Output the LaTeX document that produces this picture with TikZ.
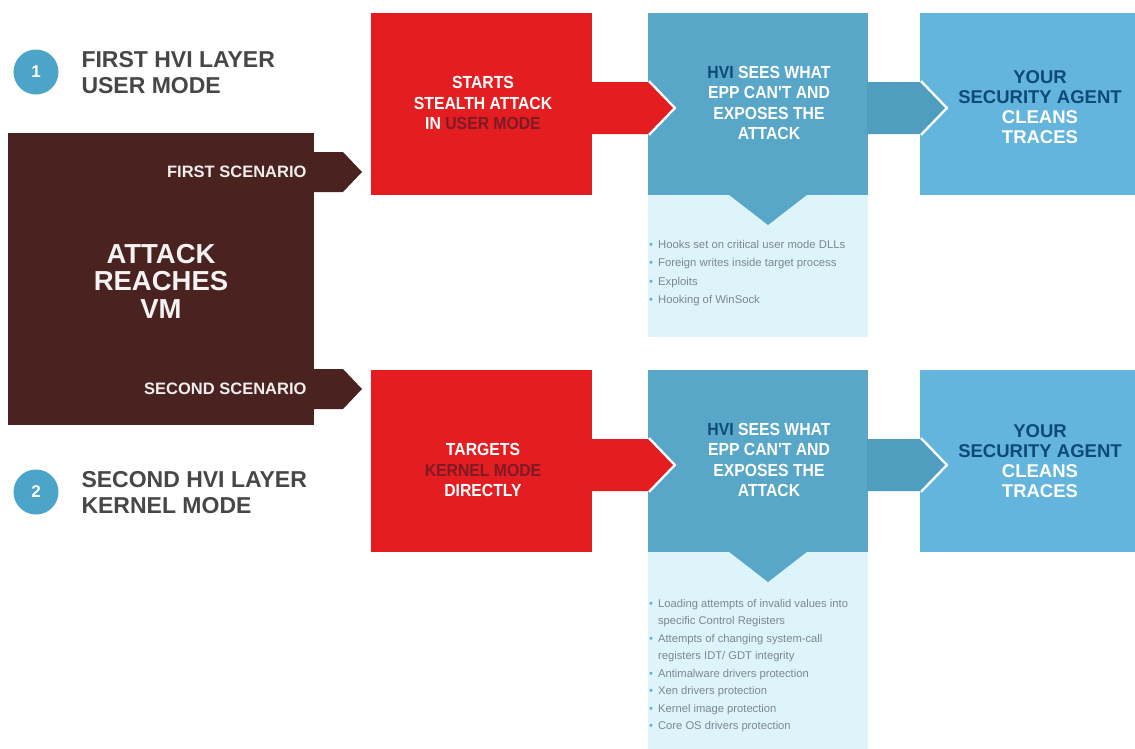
\documentclass[tikz,border=0pt]{standalone}
\usepackage{fontspec}
\setmainfont{Liberation Sans}
\newfontfamily\condb{Liberation Sans Bold}[FakeStretch=0.9]
\newfontfamily\heavy{Liberation Sans Bold}
\usetikzlibrary{calc}
\definecolor{cBrown}{HTML}{4A2321}
\definecolor{cRed}{HTML}{E41D21}
\definecolor{cDark}{HTML}{7E1A25}
\definecolor{cBlue}{HTML}{58A6C8}
\definecolor{cBlueArr}{HTML}{509EBF}
\definecolor{cRight}{HTML}{63B5DE}
\definecolor{cPanel}{HTML}{DDF4FB}
\definecolor{cNavy}{HTML}{0D4A78}
\definecolor{cCirc}{HTML}{4CA4C8}
\definecolor{cGray}{HTML}{474747}
\definecolor{cBulTxt}{HTML}{7D878C}
\definecolor{cBul}{HTML}{6AAFCF}
\newcommand{\bdot}{\textcolor{cBul}{\textbullet}\hspace{5pt}}
\newcommand{\bnodot}{\hphantom{\textbullet}\hspace{5pt}}
\begin{document}
\begin{tikzpicture}[x=1pt,y=-1pt,
  flat/.style={inner sep=0pt, outer sep=0pt, draw=none},
  redbox/.style={flat, fill=cRed, minimum width=221pt, minimum height=182pt},
  bluebox/.style={flat, fill=cBlue, minimum width=220pt, minimum height=182pt},
  rightbox/.style={flat, fill=cRight, minimum width=215pt, minimum height=182pt},
  panelbox/.style={flat, fill=cPanel, minimum width=220pt},
  boxtext/.style={align=center, text=white, font=\condb\fontsize{17.5}{20.5}\selectfont},
  righttext/.style={align=center, text=white, font=\heavy\fontsize{18.5}{20}\selectfont},
  titletext/.style={anchor=west, align=left, text=cGray, font=\heavy\fontsize{23}{26}\selectfont},
  scen/.style={anchor=east, text=white!92!cBrown, font=\heavy\fontsize{16.5}{16}\selectfont},
  numcirc/.style={circle, fill=cCirc, minimum size=45pt, inner sep=0pt, text=white, font=\heavy\fontsize{17}{17}\selectfont},
  bullets/.style={anchor=north west, align=left, text=cBulTxt, inner sep=0pt},
]
\useasboundingbox (0,0) rectangle (1135,748);
\fill[white] (0,0) rectangle (1135,748);

% left brown block
\node[flat, fill=cBrown, minimum width=306pt, minimum height=292pt] (vm) at (161,279) {};
\fill[cBrown] ($(vm.east)+(-1,-127)$) -- ($(vm.east)+(29,-127)$) -- ($(vm.east)+(48,-107)$) -- ($(vm.east)+(29,-87)$) -- ($(vm.east)+(-1,-87)$) -- cycle;
\fill[cBrown] ($(vm.east)+(-1,90)$) -- ($(vm.east)+(29,90)$) -- ($(vm.east)+(48,110)$) -- ($(vm.east)+(29,130)$) -- ($(vm.east)+(-1,130)$) -- cycle;
\node[align=center, text=white!94!cBrown, font=\heavy\fontsize{27.5}{27.5}\selectfont] (vmt) at (161,281) {ATTACK\\REACHES\\VM};
\node[scen] (s1) at (310,172) {FIRST SCENARIO};
\node[scen] (s2) at (310,389) {SECOND SCENARIO};

% titles
\node[numcirc] (c1) at (36,72) {1};
\node[titletext] (t1) at (78,73) {FIRST HVI LAYER\\USER MODE};
\node[numcirc] (c2) at (36,492) {2};
\node[titletext] (t2) at (78,493) {SECOND HVI LAYER\\KERNEL MODE};

% row 1
\node[redbox] (r1) at (481.5,104) {};
\node[panelbox, minimum height=142pt] (p1) at (758,266) {};
\node[bluebox] (b1) at (758,104) {};
\node[rightbox] (g1) at (1027.5,104) {};
\fill[cBlue] ($(b1.south)+(-30,-1)$) -- ($(b1.south)+(50,-1)$) -- ($(b1.south)+(10,30)$) -- cycle;
% red arrow r1 -> b1
\draw[white, line width=5pt, line join=miter] ($(b1.west)+(0,-22)$) -- ($(b1.west)+(25,4)$) -- ($(b1.west)+(0,30)$);
\fill[cRed] ($(r1.east)+(-1,-22)$) -- ($(b1.west)+(0,-22)$) -- ($(b1.west)+(25,4)$) -- ($(b1.west)+(0,30)$) -- ($(r1.east)+(-1,30)$) -- cycle;
% blue arrow b1 -> g1
\draw[white, line width=5pt, line join=miter] ($(g1.west)+(0,-22)$) -- ($(g1.west)+(25,4)$) -- ($(g1.west)+(0,30)$);
\fill[cBlueArr] ($(b1.east)+(-1,-22)$) -- ($(g1.west)+(0,-22)$) -- ($(g1.west)+(25,4)$) -- ($(g1.west)+(0,30)$) -- ($(b1.east)+(-1,30)$) -- cycle;

\node[boxtext] (rt1) at (483,103) {STARTS\\STEALTH ATTACK\\IN \textcolor{cDark}{USER MODE}};
\node[boxtext] (bt1) at (769,103) {\textcolor{cNavy}{HVI} SEES WHAT\\EPP CAN'T AND\\EXPOSES THE\\ATTACK};
\node[righttext] (gt1) at (1040,107) {\textcolor{cNavy}{YOUR}\\\textcolor{cNavy}{SECURITY AGENT}\\CLEANS\\TRACES};
\node[bullets, font=\fontsize{11.3}{18.5}\selectfont] (bl1) at (649,240) {%
\bdot Hooks set on critical user mode DLLs\\
\bdot Foreign writes inside target process\\
\bdot Exploits\\
\bdot Hooking of WinSock};

% row 2
\node[redbox] (r2) at (481.5,461) {};
\node[panelbox, minimum height=197pt] (p2) at (758,650.5) {};
\node[bluebox] (b2) at (758,461) {};
\node[rightbox] (g2) at (1027.5,461) {};
\fill[cBlue] ($(b2.south)+(-30,-1)$) -- ($(b2.south)+(50,-1)$) -- ($(b2.south)+(10,30)$) -- cycle;
\draw[white, line width=5pt, line join=miter] ($(b2.west)+(0,-22)$) -- ($(b2.west)+(25,4)$) -- ($(b2.west)+(0,30)$);
\fill[cRed] ($(r2.east)+(-1,-22)$) -- ($(b2.west)+(0,-22)$) -- ($(b2.west)+(25,4)$) -- ($(b2.west)+(0,30)$) -- ($(r2.east)+(-1,30)$) -- cycle;
\draw[white, line width=5pt, line join=miter] ($(g2.west)+(0,-22)$) -- ($(g2.west)+(25,4)$) -- ($(g2.west)+(0,30)$);
\fill[cBlueArr] ($(b2.east)+(-1,-22)$) -- ($(g2.west)+(0,-22)$) -- ($(g2.west)+(25,4)$) -- ($(g2.west)+(0,30)$) -- ($(b2.east)+(-1,30)$) -- cycle;

\node[boxtext] (rt2) at (483,470) {TARGETS\\\textcolor{cDark}{KERNEL MODE}\\DIRECTLY};
\node[boxtext] (bt2) at (769,460) {\textcolor{cNavy}{HVI} SEES WHAT\\EPP CAN'T AND\\EXPOSES THE\\ATTACK};
\node[righttext] (gt2) at (1040,461) {\textcolor{cNavy}{YOUR}\\\textcolor{cNavy}{SECURITY AGENT}\\CLEANS\\TRACES};
\node[bullets, font=\fontsize{11.2}{17.5}\selectfont] (bl2) at (649,599) {%
\bdot Loading attempts of invalid values into\\
\bnodot specific Control Registers\\
\bdot Attempts of changing system-call\\
\bnodot registers IDT/ GDT integrity\\
\bdot Antimalware drivers protection\\
\bdot Xen drivers protection\\
\bdot Kernel image protection\\
\bdot Core OS drivers protection};
\end{tikzpicture}
\end{document}
